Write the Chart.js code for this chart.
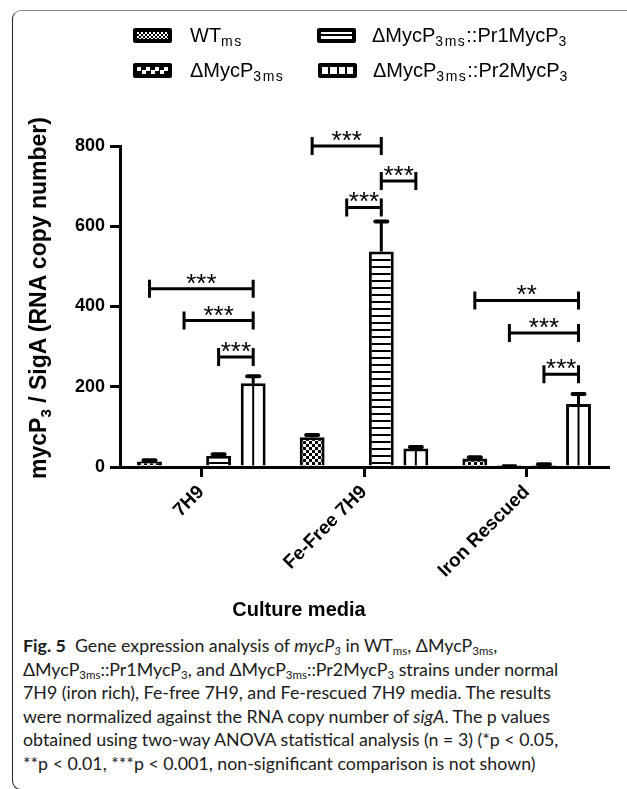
<!DOCTYPE html>
<html>
<head>
<meta charset="utf-8">
<script src="https://cdn.jsdelivr.net/npm/chart.js@4"></script>
<style>
  html, body { margin: 0; padding: 0; background: #fff; }
  body { width: 627px; height: 789px; position: relative; overflow: hidden; font-family: "Liberation Sans", Arial, sans-serif; }
  #frame { position: absolute; left: 12px; top: 10px; width: 700px; height: 778px;
           border-left: 1.5px solid #222; border-top: 1.5px solid #888; border-bottom: 1.5px solid #222;
           border-radius: 9px 0 0 9px; }
  #chart { position: absolute; left: 0; top: 0; }
  .sw { position: absolute; width: 31px; height: 7px; border: 4px solid #000; border-radius: 2px; }
  .lg { position: absolute; font-size: 20px; line-height: 22px; color: #000; white-space: nowrap; }
  .lg sub { font-size: 14px; vertical-align: -4px; letter-spacing: 1.5px; line-height: 0; }
  #ytitle { position: absolute; left: -162px; top: 285px; width: 400px; text-align: center;
            transform: rotate(-90deg); font-weight: bold; font-size: 23px; line-height: 26px; white-space: nowrap; }
  #ytitle sub { font-size: 15px; vertical-align: -5px; line-height: 0; }
  #xtitle { position: absolute; left: 199px; top: 597px; width: 200px; text-align: center;
            font-weight: bold; font-size: 20px; line-height: 24px; }
  #caption { position: absolute; left: 23px; top: 634px; font-family: Lato, sans-serif; font-size: 17.8px;
             line-height: 23.6px; white-space: nowrap; color: #1a1a1a; }
  #caption sub { font-size: 11.5px; vertical-align: -3px; line-height: 0; }
</style>
</head>
<body>
<div id="frame"></div>
<canvas id="chart" width="627" height="600"></canvas>

<div class="sw" style="left:133px;top:28px;background:repeating-conic-gradient(#000 0 25%,#fff 0 50%) 0 0/4px 4px"></div>
<div class="lg" style="left:190px;top:24px">WT<sub>ms</sub></div>
<div class="sw" style="left:317px;top:28px;background:repeating-linear-gradient(to bottom,#fff 0 2.5px,#000 2.5px 4.5px)"></div>
<div class="lg" style="left:372px;top:24px">ΔMycP<sub>3ms</sub>::Pr1MycP<sub>3</sub></div>
<div class="sw" style="left:133px;top:63px;background:repeating-conic-gradient(#000 0 25%,#fff 0 50%) 0 0/9px 7px"></div>
<div class="lg" style="left:190px;top:59px">ΔMycP<sub>3ms</sub></div>
<div class="sw" style="left:318px;top:63px;background:repeating-linear-gradient(to right,#fff 0 6.25px,#000 6.25px 8.25px)"></div>
<div class="lg" style="left:373px;top:59px">ΔMycP<sub>3ms</sub>::Pr2MycP<sub>3</sub></div>

<div id="ytitle">mycP<sub>3</sub> / SigA (RNA copy number)</div>
<div id="xtitle">Culture media</div>

<div id="caption"><b>Fig. 5</b>&nbsp; Gene expression analysis of <i>mycP<sub>3</sub></i> in WT<sub>ms</sub>, ΔMycP<sub>3ms</sub>,<br>ΔMycP<sub>3ms</sub>::Pr1MycP<sub>3</sub>, and ΔMycP<sub>3ms</sub>::Pr2MycP<sub>3</sub> strains under normal<br>7H9 (iron rich), Fe-free 7H9, and Fe-rescued 7H9 media. The results<br>were normalized against the RNA copy number of <i>sigA</i>. The p values<br>obtained using two-way ANOVA statistical analysis (n = 3) (*p &lt; 0.05,<br>**p &lt; 0.01, ***p &lt; 0.001, non-significant comparison is not shown)</div>

<script>
const categories = ["7H9", "Fe-Free 7H9", "Iron Rescued"];

const wtMean  = [14, 74, 21];
const wtErr   = [3, 6, 3];
const delMean = [0, 0, 1];
const delErr  = [0, 0, 1];
const pr1Mean = [28, 537, 5];
const pr1Err  = [4, 75, 2];
const pr2Mean = [209, 46, 157];
const pr2Err  = [17, 4, 25];

const yTicks = [0, 200, 400, 600, 800];

// significance brackets: group, bar from, bar to, height, stars
const sigGroup = [0, 0, 0, 1, 1, 1, 2, 2, 2];
const sigFrom  = [0, 1, 2, 0, 2, 1, 0, 1, 2];
const sigTo    = [3, 3, 3, 2, 3, 2, 3, 3, 3];
const sigY     = [444, 365, 274, 800, 713, 647, 415, 334, 231];
const sigLabel = ["***", "***", "***", "***", "***", "***", "**", "***", "***"];

const means = [wtMean, delMean, pr1Mean, pr2Mean];
const errs = [wtErr, delErr, pr1Err, pr2Err];

function makePattern(w, h, draw) {
    const c = document.createElement("canvas");
    c.width = w; c.height = h;
    const g = c.getContext("2d");
    g.fillStyle = "#fff";
    g.fillRect(0, 0, w, h);
    g.fillStyle = "#000";
    draw(g);
    return g.createPattern(c, "repeat");
}

const fineChecker = makePattern(6, 6, g => { g.fillRect(0, 0, 3, 3); g.fillRect(3, 3, 3, 3); });
const bigChecker = makePattern(8, 8, g => { g.fillRect(0, 0, 4, 4); g.fillRect(4, 4, 4, 4); });
const hStripes = makePattern(1, 7, g => { g.fillRect(0, 0, 1, 2); });

const extras = {
    id: "extras",
    afterDatasetsDraw(chart) {
        const ctx = chart.ctx;
        const y = chart.scales.y;
        ctx.save();
        ctx.strokeStyle = "#000";
        ctx.fillStyle = "#000";

        // divider line in the Pr2 bars
        ctx.lineWidth = 2;
        chart.getDatasetMeta(3).data.forEach(bar => {
            ctx.beginPath();
            ctx.moveTo(bar.x, bar.y);
            ctx.lineTo(bar.x, bar.base);
            ctx.stroke();
        });

        // error bars, upper half only
        ctx.lineWidth = 3;
        errs.forEach((err, d) => {
            chart.getDatasetMeta(d).data.forEach((bar, i) => {
                if (!err[i]) return;
                const top = y.getPixelForValue(means[d][i] + err[i]);
                ctx.beginPath();
                ctx.moveTo(bar.x, bar.y);
                ctx.lineTo(bar.x, top);
                ctx.stroke();
                ctx.lineWidth = 4;
                ctx.lineCap = "round";
                ctx.beginPath();
                ctx.moveTo(bar.x - 6, top);
                ctx.lineTo(bar.x + 6, top);
                ctx.stroke();
                ctx.lineWidth = 3;
                ctx.lineCap = "butt";
            });
        });

        // significance brackets
        ctx.font = '26px "Liberation Sans", Arial';
        ctx.textAlign = "center";
        ctx.textBaseline = "alphabetic";
        sigY.forEach((v, k) => {
            const x1 = chart.getDatasetMeta(sigFrom[k]).data[sigGroup[k]].x;
            const x2 = chart.getDatasetMeta(sigTo[k]).data[sigGroup[k]].x;
            const py = y.getPixelForValue(v);
            ctx.beginPath();
            ctx.moveTo(x1, py); ctx.lineTo(x2, py);
            ctx.moveTo(x1, py - 9); ctx.lineTo(x1, py + 9);
            ctx.moveTo(x2, py - 9); ctx.lineTo(x2, py + 9);
            ctx.stroke();
            ctx.fillText(sigLabel[k], (x1 + x2) / 2, py + 3);
        });
        ctx.restore();
    }
};

const barStyle = { borderColor: "#000", borderWidth: 3, barPercentage: 0.72, categoryPercentage: 0.85 };

new Chart(document.getElementById("chart"), {
    type: "bar",
    data: {
        labels: categories,
        datasets: [
            { label: "WTms", data: wtMean, backgroundColor: fineChecker, ...barStyle },
            { label: "ΔMycP3ms", data: delMean, backgroundColor: bigChecker, ...barStyle },
            { label: "ΔMycP3ms::Pr1MycP3", data: pr1Mean, backgroundColor: hStripes, ...barStyle },
            { label: "ΔMycP3ms::Pr2MycP3", data: pr2Mean, backgroundColor: "#fff", ...barStyle }
        ]
    },
    options: {
        responsive: false,
        animation: false,
        layout: { padding: { top: 146, right: 19, bottom: 0, left: 0 } },
        plugins: { legend: { display: false }, tooltip: { enabled: false } },
        scales: {
            x: {
                afterFit: s => { s.height = 133; },
                grid: { display: true, offset: false, drawOnChartArea: false, tickLength: 10, lineWidth: 3, color: "#000" },
                border: { display: true, width: 3, color: "#000" },
                ticks: {
                    color: "#000", minRotation: 45, maxRotation: 45, padding: 4,
                    font: { family: '"Liberation Sans", Arial', size: 19, weight: "bold" }
                }
            },
            y: {
                min: 0, max: 800,
                afterFit: s => { s.width = 120; },
                afterBuildTicks: s => { s.ticks = yTicks.map(v => ({ value: v })); },
                grid: { display: true, drawOnChartArea: false, tickLength: 10, lineWidth: 3, color: "#000" },
                border: { display: true, width: 3, color: "#000" },
                ticks: {
                    color: "#000", padding: 5,
                    font: { family: '"Liberation Sans", Arial', size: 18, weight: "bold" }
                }
            }
        }
    },
    plugins: [extras]
});
</script>
</body>
</html>
